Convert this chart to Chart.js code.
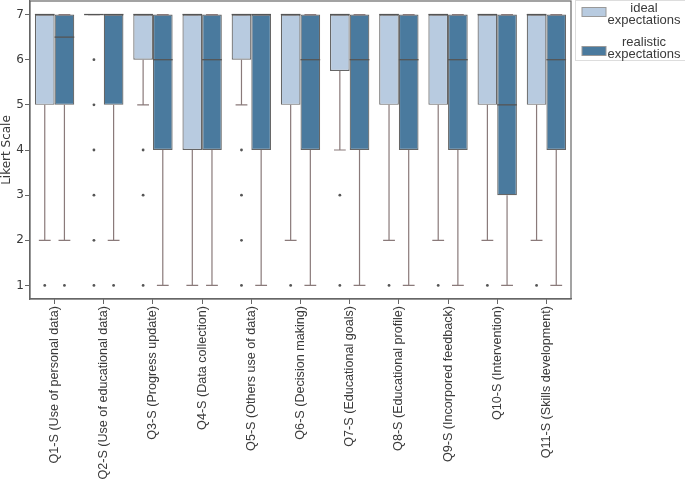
<!DOCTYPE html>
<html>
<head>
<meta charset="utf-8">
<script src="https://cdn.jsdelivr.net/npm/chart.js@4.4.1/dist/chart.umd.min.js"></script>
<style>
  html, body { margin: 0; padding: 0; background: #fff; }
  #wrap { width: 685px; height: 486px; }
</style>
</head>
<body>
<div id="wrap"><canvas id="boxChart" width="685" height="486"></canvas></div>
<script>
// Datos
const categories = [
    'Q1-S (Use of personal data)', 'Q2-S (Use of educational data)', 'Q3-S (Progress update)',
    'Q4-S (Data collection)', 'Q5-S (Others use of data)', 'Q6-S (Decision making)',
    'Q7-S (Educational goals)', 'Q8-S (Educational profile)', 'Q9-S (Incorpored feedback)',
    'Q10-S (Intervention)', 'Q11-S (Skills development)'
];
const yTicks = [1, 2, 3, 4, 5, 6, 7];

// ideal expectations
const idealLow = [2, 7, 5, 1, 5, 2, 4, 2, 2, 2, 2];
const idealQ1 = [5, 7, 6, 4, 6, 5, 5.75, 5, 5, 5, 5];
const idealMedian = [7, 7, 7, 7, 7, 7, 7, 7, 7, 7, 7];
const idealQ3 = [7, 7, 7, 7, 7, 7, 7, 7, 7, 7, 7];
const idealHigh = [7, 7, 7, 7, 7, 7, 7, 7, 7, 7, 7];
const idealOutliers = [[1], [6, 5, 4, 3, 2, 1], [4, 3, 1], [], [4, 3, 2, 1], [1], [3, 1], [1], [1], [1], [1]];

// realistic expectations
const realLow = [2, 2, 1, 1, 1, 1, 1, 1, 1, 1, 1];
const realQ1 = [5, 5, 4, 4, 4, 4, 4, 4, 4, 3, 4];
const realMedian = [6.5, 7, 6, 6, 7, 6, 6, 6, 6, 5, 6];
const realQ3 = [7, 7, 7, 7, 7, 7, 7, 7, 7, 7, 7];
const realHigh = [7, 7, 7, 7, 7, 7, 7, 7, 7, 7, 7];
const realOutliers = [[1], [1], [], [], [], [], [], [], [], [], []];

const stats = [
    { low: idealLow, med: idealMedian, high: idealHigh, q1: idealQ1, q3: idealQ3, out: idealOutliers },
    { low: realLow, med: realMedian, high: realHigh, q1: realQ1, q3: realQ3, out: realOutliers }
];

const edgeColor = '#666666';
const whiskerColor = '#8a7a7a';
const textColor = '#3a3a3a';

// Plugin: bigotes, medianas, atípicos, marco y leyenda
const boxExtras = {
    id: 'boxExtras',
    afterDatasetsDraw(chart) {
        const ctx = chart.ctx;
        const y = chart.scales.y;
        ctx.save();
        stats.forEach((s, d) => {
            const meta = chart.getDatasetMeta(d);
            meta.data.forEach((bar, i) => {
                const x = bar.x;
                const w = bar.width;
                const cap = w * 0.6;
                ctx.strokeStyle = whiskerColor;
                ctx.lineWidth = 1.2;
                // bigote inferior
                ctx.beginPath();
                ctx.moveTo(x, y.getPixelForValue(s.q1[i]));
                ctx.lineTo(x, y.getPixelForValue(s.low[i]));
                ctx.moveTo(x - cap / 2, y.getPixelForValue(s.low[i]));
                ctx.lineTo(x + cap / 2, y.getPixelForValue(s.low[i]));
                // bigote superior
                ctx.moveTo(x, y.getPixelForValue(s.q3[i]));
                ctx.lineTo(x, y.getPixelForValue(s.high[i]));
                ctx.moveTo(x - cap / 2, y.getPixelForValue(s.high[i]));
                ctx.lineTo(x + cap / 2, y.getPixelForValue(s.high[i]));
                ctx.stroke();
                // mediana
                ctx.strokeStyle = '#555555';
                ctx.lineWidth = 1.3;
                ctx.beginPath();
                ctx.moveTo(x - w / 2, y.getPixelForValue(s.med[i]));
                ctx.lineTo(x + w / 2, y.getPixelForValue(s.med[i]));
                ctx.stroke();
                // atípicos
                ctx.fillStyle = '#555555';
                s.out[i].forEach(v => {
                    ctx.beginPath();
                    ctx.arc(x, y.getPixelForValue(v), 1.4, 0, Math.PI * 2);
                    ctx.fill();
                });
            });
        });

        // marco del área
        const a = chart.chartArea;
        ctx.strokeStyle = edgeColor;
        ctx.lineWidth = 1.2;
        ctx.strokeRect(a.left, a.top, a.right - a.left, a.bottom - a.top);

        // leyenda
        const lx = a.right + 4;
        ctx.strokeStyle = '#dddddd';
        ctx.lineWidth = 1;
        ctx.strokeRect(lx + 0.5, 0.5, 120, 60);
        ctx.font = '13px "Liberation Sans", Arial, sans-serif';
        ctx.textAlign = 'center';
        ctx.textBaseline = 'middle';
        const items = [
            { color: chart.data.datasets[0].backgroundColor, lines: ['ideal', 'expectations'], top: 8, patch: 7 },
            { color: chart.data.datasets[1].backgroundColor, lines: ['realistic', 'expectations'], top: 42, patch: 46 }
        ];
        items.forEach(it => {
            ctx.fillStyle = it.color;
            ctx.fillRect(lx + 7, it.patch + 0.5, 24, 9);
            ctx.strokeStyle = '#999999';
            ctx.strokeRect(lx + 7, it.patch + 0.5, 24, 9);
            ctx.fillStyle = textColor;
            ctx.fillText(it.lines[0], lx + 69, it.top);
            ctx.fillText(it.lines[1], lx + 69, it.top + 12);
        });
        ctx.restore();
    }
};

new Chart(document.getElementById('boxChart').getContext('2d'), {
    type: 'bar',
    data: {
        labels: categories,
        datasets: [{
            label: 'ideal expectations',
            data: idealQ1.map((v, i) => [v, idealQ3[i]]),
            backgroundColor: '#b8cbe0',
            borderColor: edgeColor,
            borderWidth: 1.2,
            borderSkipped: false,
            categoryPercentage: 0.8,
            barPercentage: 1.0
        }, {
            label: 'realistic expectations',
            data: realQ1.map((v, i) => [v, realQ3[i]]),
            backgroundColor: '#4a7a9e',
            borderColor: edgeColor,
            borderWidth: 1.2,
            borderSkipped: false,
            categoryPercentage: 0.8,
            barPercentage: 1.0
        }]
    },
    options: {
        responsive: false,
        animation: false,
        layout: { padding: { top: 1, right: 114, left: 0, bottom: 0 } },
        plugins: {
            legend: { display: false },
            tooltip: { enabled: false }
        },
        scales: {
            x: {
                grid: { drawOnChartArea: false, offset: false, tickLength: 5, color: edgeColor },
                border: { color: edgeColor, width: 1.2 },
                ticks: {
                    color: textColor,
                    minRotation: 90,
                    maxRotation: 90,
                    autoSkip: false,
                    padding: 2,
                    font: { family: '"Liberation Sans", Arial, sans-serif', size: 12.6 }
                },
                afterFit: s => { s.height = 187; s.paddingLeft = 0; s.paddingRight = 0; }
            },
            y: {
                min: 0.7,
                max: 7.3,
                grid: { drawOnChartArea: false, tickLength: 5, color: edgeColor },
                border: { color: edgeColor, width: 1.2 },
                afterBuildTicks: s => { s.ticks = yTicks.map(v => ({ value: v })); },
                ticks: {
                    color: textColor,
                    padding: 1,
                    font: { family: '"DejaVu Sans", sans-serif', size: 12 }
                },
                title: {
                    display: true,
                    text: 'Likert Scale',
                    color: textColor,
                    padding: { top: 0, bottom: 0 },
                    font: { family: '"DejaVu Sans", sans-serif', size: 12 }
                },
                afterFit: s => { s.width = 30; s.paddingTop = 0; s.paddingBottom = 0; }
            }
        }
    },
    plugins: [boxExtras]
});
</script>
</body>
</html>
